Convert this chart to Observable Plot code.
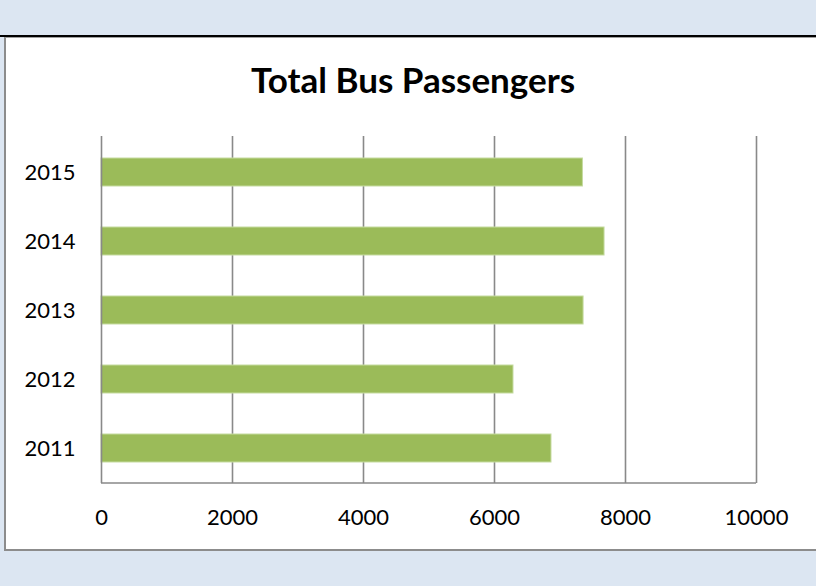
<!DOCTYPE html>
<html>
<head>
<meta charset="utf-8">
<script src="https://cdn.jsdelivr.net/npm/d3@7"></script>
<script src="https://cdn.jsdelivr.net/npm/@observablehq/plot@0.6"></script>
<style>
  html, body { margin: 0; padding: 0; }
  body { width: 816px; height: 586px; background: #dce6f2; position: relative; overflow: hidden; font-family: Lato, "Open Sans", sans-serif; }
  #topline { position: absolute; left: 0; top: 35px; width: 816px; height: 2px; background: #000; }
  #box { position: absolute; left: 4px; top: 37px; width: 830px; height: 511px; background: #fff;
         border-left: 2px solid #8c8c8c; border-top: 1px solid #a0a0a0; border-bottom: 2px solid #8c8c8c; }
  #title { position: absolute; left: 0; width: 826px; top: 62px; text-align: center; font-weight: 700; font-size: 35px; color: #000; line-height: 1; }
  #chart { position: absolute; left: 0; top: 37px; }
</style>
</head>
<body>
<div id="topline"></div>
<div id="box"></div>
<div id="title">Total Bus Passengers</div>
<div id="chart"></div>
<script>
const years = ["2011", "2012", "2013", "2014", "2015"];
const passengers = [6870, 6290, 7360, 7680, 7350];
const xTicks = [0, 2000, 4000, 6000, 8000, 10000];

const data = years.map((y, i) => ({year: y, value: passengers[i]}));

const chart = Plot.plot({
  width: 816,
  height: 513,
  marginTop: 99,
  marginBottom: 67,
  marginLeft: 101,
  marginRight: 60,
  style: {background: "transparent", fontFamily: "Lato, 'Open Sans', sans-serif", fontSize: "22px", color: "#000"},
  x: {domain: [0, 10000], ticks: xTicks, tickSize: 0, tickPadding: 26, tickFormat: d => String(d), label: null},
  y: {domain: years.slice().reverse(), paddingInner: 0.6, paddingOuter: 0.3, tickSize: 0, tickPadding: 26, label: null},
  marks: [
    Plot.gridX(xTicks.slice(1), {stroke: "#898989", strokeOpacity: 1, strokeWidth: 1.6}),
    Plot.barX(data, {x: "value", y: "year", fill: "#9bbb59", stroke: "#c5dba0", strokeWidth: 1}),
    Plot.ruleX([0], {stroke: "#898989", strokeWidth: 1.6}),
    Plot.axisX({ticks: xTicks, tickSize: 0, tickPadding: 26, tickFormat: d => String(d), fill: "#000", fontSize: 22}),
    Plot.axisY({tickSize: 0, tickPadding: 26, fill: "#000", fontSize: 22})
  ]
});
document.getElementById("chart").appendChild(chart);

// bottom axis baseline, placed from the chart's own scales
const xs = chart.scale("x");
const ys = chart.scale("y");
const yBottom = Math.max(...ys.range);
d3.select(chart).append("line")
  .attr("x1", xs.apply(0))
  .attr("x2", xs.apply(10000))
  .attr("y1", yBottom)
  .attr("y2", yBottom)
  .attr("stroke", "#898989")
  .attr("stroke-width", 1.6);
</script>
</body>
</html>
